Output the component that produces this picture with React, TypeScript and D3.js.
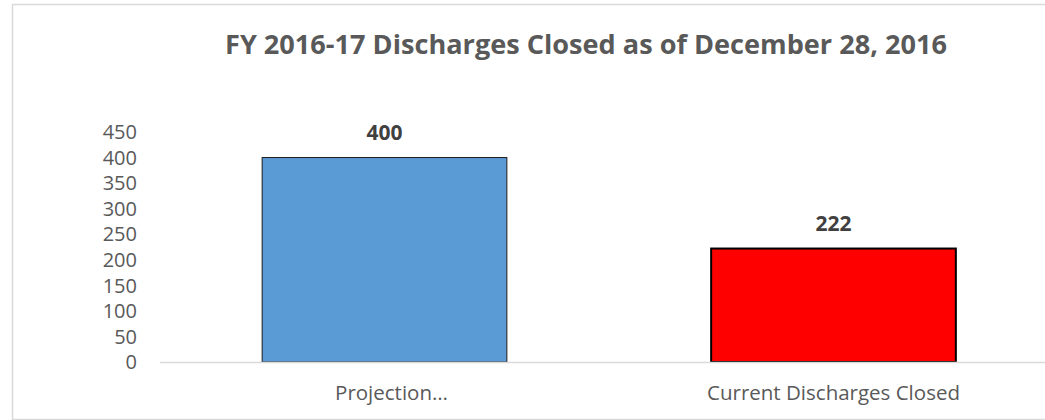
import { useEffect, useRef } from 'react'
import * as d3 from 'd3'

const categories = ['Projection…', 'Current Discharges Closed']
const values = [400, 222]
const barColors = ['#5B9BD5', '#FF0000']
const yTicks = [0, 50, 100, 150, 200, 250, 300, 350, 400, 450]
const title = 'FY 2016-17 Discharges Closed as of December 28, 2016'

const W = 1045
const H = 420

export default function App() {
  const svgRef = useRef<SVGSVGElement>(null)

  useEffect(() => {
    if (!svgRef.current) return
    const svg = d3.select(svgRef.current)
    svg.selectAll('*').remove()

    const font = '"Open Sans", sans-serif'

    // chart frame (cropped on the right)
    svg.append('path')
      .attr('d', `M${W + 5},4.5 H12.5 V419.5 H${W + 5}`)
      .attr('fill', 'none')
      .attr('stroke', '#D9D9D9')
      .attr('stroke-width', 1.5)

    svg.append('text')
      .attr('x', 586)
      .attr('y', 54)
      .attr('text-anchor', 'middle')
      .attr('font-family', font)
      .attr('font-weight', 'bold')
      .attr('font-size', 27)
      .attr('fill', '#595959')
      .attr('textLength', 722)
      .attr('lengthAdjust', 'spacingAndGlyphs')
      .text(title)

    const x = d3.scaleBand<string>()
      .domain(categories)
      .range([160, 1058])
      .paddingInner(0.455)
      .paddingOuter(0.2275)

    const y = d3.scaleLinear().domain([0, 450]).range([362, 132])

    // y tick labels
    svg.append('g')
      .selectAll('text')
      .data(yTicks)
      .enter()
      .append('text')
      .attr('x', 137)
      .attr('y', d => y(d))
      .attr('dy', '0.36em')
      .attr('text-anchor', 'end')
      .attr('font-family', font)
      .attr('font-size', 20)
      .attr('fill', '#595959')
      .text(d => d)

    // bars
    svg.append('g')
      .selectAll('rect')
      .data(values)
      .enter()
      .append('rect')
      .attr('x', (_, i) => x(categories[i])!)
      .attr('y', d => y(d))
      .attr('width', x.bandwidth())
      .attr('height', d => y(0) - y(d))
      .attr('fill', (_, i) => barColors[i])
      .attr('stroke', (_, i) => (i === 0 ? '#1a1a1a' : '#000'))
      .attr('stroke-width', (_, i) => (i === 0 ? 1 : 2))

    // x axis line
    svg.append('line')
      .attr('x1', 160)
      .attr('x2', W)
      .attr('y1', y(0) + 0.5)
      .attr('y2', y(0) + 0.5)
      .attr('stroke', '#D9D9D9')
      .attr('stroke-width', 1.5)

    // value labels
    svg.append('g')
      .selectAll('text')
      .data(values)
      .enter()
      .append('text')
      .attr('x', (_, i) => x(categories[i])! + x.bandwidth() / 2)
      .attr('y', d => y(d) - 18)
      .attr('text-anchor', 'middle')
      .attr('font-family', font)
      .attr('font-weight', 'bold')
      .attr('font-size', 21)
      .attr('fill', '#404040')
      .text(d => d)

    // category labels
    svg.append('g')
      .selectAll('text')
      .data(categories)
      .enter()
      .append('text')
      .attr('x', d => x(d)! + x.bandwidth() / 2 + (d === categories[0] ? 7 : 0))
      .attr('y', 400)
      .attr('text-anchor', 'middle')
      .attr('font-family', font)
      .attr('font-size', 20.5)
      .attr('fill', '#595959')
      .text(d => d)
  }, [])

  return (
    <svg
      ref={svgRef}
      width={W}
      height={H}
      style={{ position: 'absolute', left: 0, top: 0, background: '#fff' }}
    />
  )
}
